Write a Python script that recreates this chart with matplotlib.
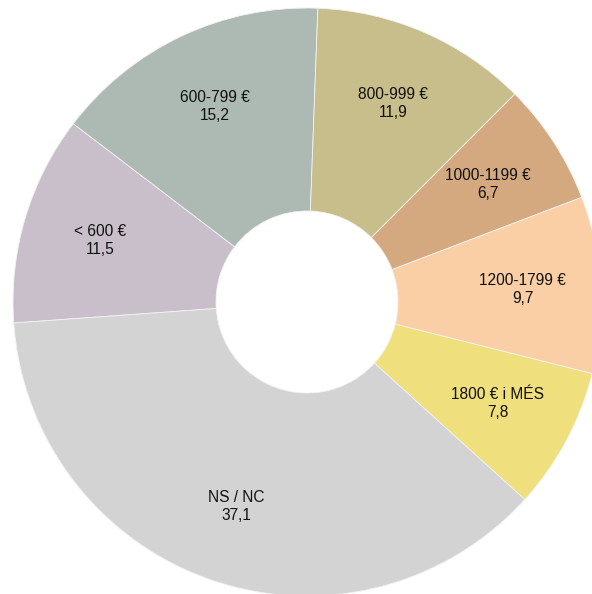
import matplotlib
matplotlib.use("Agg")
import matplotlib.pyplot as plt
import numpy as np

labels = ["< 600 €", "600-799 €", "800-999 €", "1000-1199 €", "1200-1799 €", "1800 € i MÉS", "NS / NC"]
values = [11.5, 15.2, 11.9, 6.7, 9.7, 7.8, 37.1]
colors = ["#c8bfcb", "#adbab3", "#c7be8c", "#d5a97f", "#fbcfa5", "#efdf7d", "#d3d3d3"]

plt.rcParams["font.family"] = ["Liberation Sans", "DejaVu Sans"]

fig = plt.figure(figsize=(5.92, 5.94), dpi=100)
ax = fig.add_axes([0, 0, 1, 1])
ax.set_axis_off()

hole = 91 / 294
wedges, _ = ax.pie(
    values,
    colors=colors,
    startangle=184.1,
    counterclock=False,
    radius=1.0,
    wedgeprops=dict(width=1 - hole, edgecolor="#f2f2f2", linewidth=0.6),
)

for w, lab, val in zip(wedges, labels, values):
    mid = np.deg2rad((w.theta1 + w.theta2) / 2)
    r = 0.735
    ax.text(r * np.cos(mid), r * np.sin(mid), f"{lab}\n{val:.1f}".replace(".", ","),
            ha="center", va="center", fontsize=11.2, color="#111111", linespacing=1.25)

ax.set_xlim(-307 / 294, (592 - 307) / 294)
ax.set_ylim(-(594 - 302) / 294, 302 / 294)
ax.set_aspect("equal")

fig.savefig("out.png", dpi=100)
